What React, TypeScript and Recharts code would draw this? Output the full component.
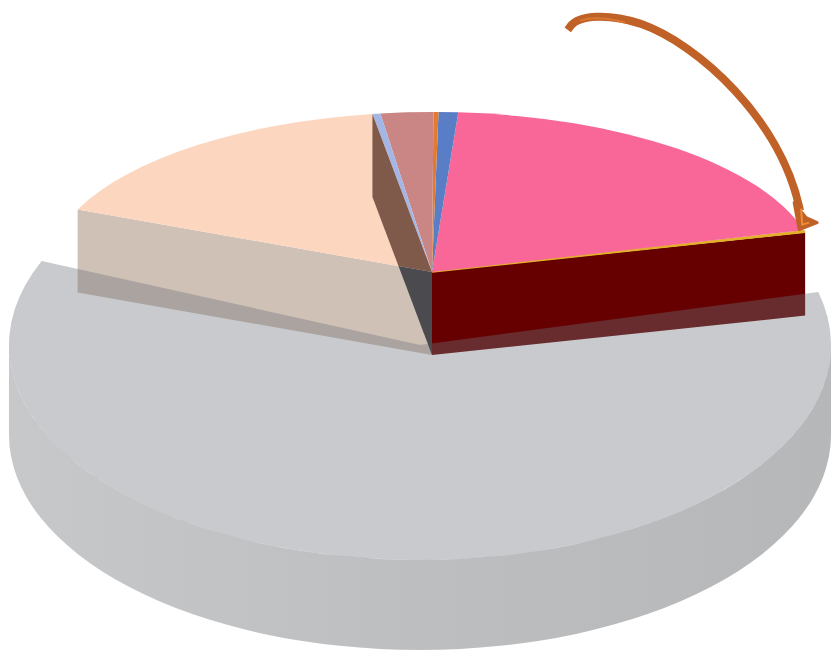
import React from 'react'
import { PieChart, Pie } from 'recharts'

// slice shares (percent of the whole pie)
const names = ['Gray', 'Yellow', 'Pink', 'Blue', 'Orange', 'Rosy', 'LightBlue', 'Peach']
const values = [60.35, 0.25, 19.7, 0.82, 0.21, 2.2, 0.33, 16.14]

const TOP_COLORS = ['#c8cace', '#e3b02a', '#f86798', '#5a7ec6', '#e67a2c', '#c98684', '#a3b6e6', '#fdd6bf']
const MAROON_WALL = '#660000'
const PEACH_WALL = '#cfc1b6'
const BROWN_WALL = '#7f5a4b'
const DARK_WALL = '#4b4a4f'

const data = names.map((name, i) => ({ name, value: values[i] }))

const START_ANGLE = 157
// upper (lifted) slices and the big lower slice are projected differently
const TOP = { dx: 0, dy: 0, scale: 1, tilt: 160 / 385, depth: 83 }
const BASE = { dx: -12, dy: 73, scale: 411 / 385, tilt: 215 / 411, depth: 90 }

const rad = Math.PI / 180

type Geo = { cx: number; cy: number; rx: number; ry: number; depth: number }

function geom(p: any): Geo {
    const s = p.name === 'Gray' ? BASE : TOP
    const rx = p.outerRadius * s.scale
    return { cx: p.cx + s.dx, cy: p.cy + s.dy, rx, ry: rx * s.tilt, depth: s.depth }
}

function pt(g: Geo, deg: number): [number, number] {
    return [g.cx + g.rx * Math.cos(deg * rad), g.cy - g.ry * Math.sin(deg * rad)]
}

function topPath(g: Geo, a0: number, a1: number) {
    const [x0, y0] = pt(g, a0)
    const [x1, y1] = pt(g, a1)
    const large = a1 - a0 > 180 ? 1 : 0
    return `M${g.cx},${g.cy} L${x0},${y0} A${g.rx},${g.ry} 0 ${large} 0 ${x1},${y1} Z`
}

function sidePath(g: Geo, a0: number, a1: number) {
    // only the front half (180..360) of the rim shows its side
    let d = ''
    for (let n = 0; n < 2; n++) {
        const lo = Math.max(a0, 180 + 360 * n)
        const hi = Math.min(a1, 360 + 360 * n)
        if (hi <= lo) continue
        const [x0, y0] = pt(g, lo)
        const [x1, y1] = pt(g, hi)
        d += `M${x0},${y0} A${g.rx},${g.ry} 0 0 0 ${x1},${y1} L${x1},${y1 + g.depth} A${g.rx},${g.ry} 0 0 1 ${x0},${y0 + g.depth} Z `
    }
    return d
}

function wallPath(g: Geo, a: number) {
    const [x, y] = pt(g, a)
    return `M${g.cx},${g.cy} L${x},${y} L${x},${y + g.depth} L${g.cx},${g.cy + g.depth} Z`
}

const poly = (pts: number[][]) => 'M' + pts.map((q) => q.join(',')).join(' L') + ' Z'

function baseLayer(p: any) {
    if (p.name !== 'Gray') return <g />
    const g = geom(p)
    return (
        <g>
            <defs>
                <linearGradient id="graySide" x1="0" y1="0" x2="1" y2="0">
                    <stop offset="0%" stopColor="#c7c8ca" />
                    <stop offset="45%" stopColor="#bebfc1" />
                    <stop offset="100%" stopColor="#b6b7b9" />
                </linearGradient>
            </defs>
            <path d={sidePath(g, p.startAngle, p.endAngle)} fill="url(#graySide)" />
        </g>
    )
}

function wallLayer(p: any) {
    const g = geom(p)
    if (p.name === 'Yellow') return <path d={wallPath(g, p.startAngle)} fill={MAROON_WALL} />
    if (p.name === 'Peach') return <path d={wallPath(g, p.endAngle)} fill={PEACH_WALL} />
    return <g />
}

function topLayer(p: any) {
    if (p.name === 'Gray') return <g />
    const g = geom(p)
    const fill = TOP_COLORS[names.indexOf(p.name)]
    if (p.name === 'Yellow') {
        // thin slice: keep its lower edge visible as a band
        const [x, y] = pt(g, p.startAngle)
        return (
            <g>
                <path d={topPath(g, p.startAngle, p.endAngle)} fill={fill} />
                <path d={`M${g.cx},${g.cy - 0.5} L${x},${y - 1}`} stroke={fill} strokeWidth={2.6} />
            </g>
        )
    }
    return <path d={topPath(g, p.startAngle, p.endAngle)} fill={fill} />
}

function overlayLayer(p: any) {
    const g = geom(p)
    if (p.name === 'Gray') {
        // translucent top face darkens whatever wall sits behind it
        return <path d={topPath(g, p.startAngle, p.endAngle)} fill="#6c717b" fillOpacity={0.375} />
    }
    if (p.name === 'LightBlue') {
        const A = pt(g, p.endAngle)
        const B = [g.cx, g.cy]
        const C = [g.cx, g.cy + g.depth]
        const D = [A[0], A[1] + g.depth]
        const u = [Math.cos(START_ANGLE * rad), -TOP.tilt * Math.sin(START_ANGLE * rad)]
        const v = [B[0] - A[0], B[1] - A[1]]
        const w = [D[0] - B[0], D[1] - B[1]]
        const det = -u[0] * v[1] + v[0] * u[1]
        const s = (u[0] * w[1] - u[1] * w[0]) / det
        const P = [D[0] + s * v[0], D[1] + s * v[1]]
        return (
            <g>
                <path d={poly([A, B, P, D])} fill={BROWN_WALL} />
                <path d={poly([B, C, P])} fill={DARK_WALL} />
            </g>
        )
    }
    if (p.name === 'Yellow') {
        // hand drawn arrow pointing at the thin slice
        const [tx, ty] = pt(g, p.startAngle)
        const at = (dx: number, dy: number) => `${tx + dx},${ty + dy}`
        const shaft = `M${at(-235, -206)} C${at(-226, -218)} ${at(-196, -219)} ${at(-165, -209)} C${at(-105, -188)} ${at(-25, -112)} ${at(-6, -26)}`
        const head = `M${at(-11, -30)} L${at(-6, -3)} L${at(12, -10)} L${at(1, -15)} Z`
        return (
            <g>
                <path d={shaft} fill="none" stroke="#c06228" strokeWidth={8} strokeLinecap="square" strokeLinejoin="round" />
                <path d={head} fill="#c06228" stroke="#c06228" strokeWidth={3} strokeLinejoin="round" />
                <path d={`M${at(-4, -24)} L${at(-3, -8)} L${at(4, -10)}`} fill="none" stroke="#f08a34" strokeWidth={2} />
                <path d={`M${at(-225, -212)} C${at(-212, -216)} ${at(-195, -214)} ${at(-180, -210)}`} fill="none" stroke="#d8772f" strokeWidth={2} />
            </g>
        )
    }
    return <g />
}

const layers = [baseLayer, wallLayer, topLayer, overlayLayer]

export default function App() {
    return (
        <div style={{ position: 'absolute', left: 0, top: 0, background: '#fff' }}>
            <PieChart width={832} height={651} margin={{ top: 0, right: 0, bottom: 0, left: 0 }}>
                {layers.map((layer, i) => (
                    <Pie
                        key={i}
                        data={data}
                        dataKey="value"
                        nameKey="name"
                        cx={432}
                        cy={272}
                        innerRadius={0}
                        outerRadius={385}
                        startAngle={START_ANGLE}
                        endAngle={START_ANGLE + 360}
                        fill="none"
                        stroke="none"
                        label={layer}
                        labelLine={false}
                        isAnimationActive={false}
                    />
                ))}
            </PieChart>
        </div>
    )
}
